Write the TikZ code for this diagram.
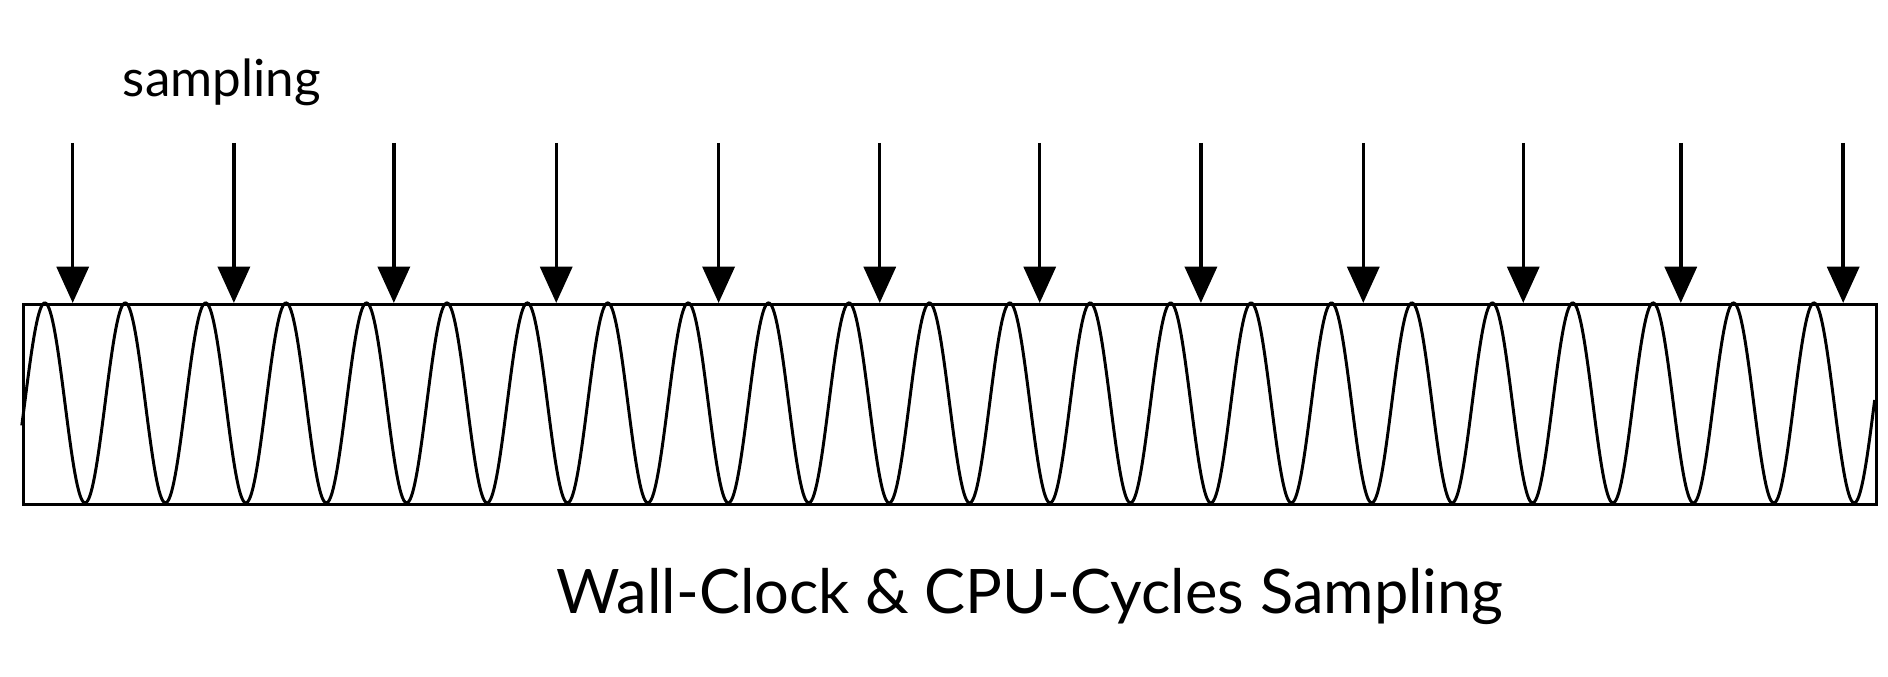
\documentclass[tikz,border=0pt]{standalone}
\usepackage{fontspec}
\setmainfont{Lato}
\usetikzlibrary{arrows.meta}
\begin{document}
\begin{tikzpicture}[x=0.01cm,y=-0.01cm,line width=0.8pt,
  samplearrow/.style={-{Triangle[width=7.5pt,length=8.5pt]}}]
\useasboundingbox (0,0) rectangle (1558,558);
\node[draw,minimum width=1529*0.01cm,minimum height=165*0.01cm,inner sep=0,anchor=north west] (box) at (18,250) {};
\draw[line width=0.7pt] plot[domain=18:1547,samples=1500] (\x,{332.5-82.5*sin(5.42495*(\x-20.4))});
\foreach \i/\x in {1/60,2/193,3/325,4/459,5/593,6/726,7/858,8/991,9/1125,10/1257,11/1387,12/1521}{
  \coordinate (s\i) at (\x,118);
  \coordinate (t\i) at (\x,250);
  \draw[samplearrow] (s\i) -- (t\i);
}
\node (lab) at (183,68) {\fontsize{12pt}{14pt}\selectfont sampling};
\node (title) at (850,492) {\fontsize{14.4pt}{18pt}\selectfont Wall-Clock \& CPU-Cycles Sampling};
\end{tikzpicture}
\end{document}
